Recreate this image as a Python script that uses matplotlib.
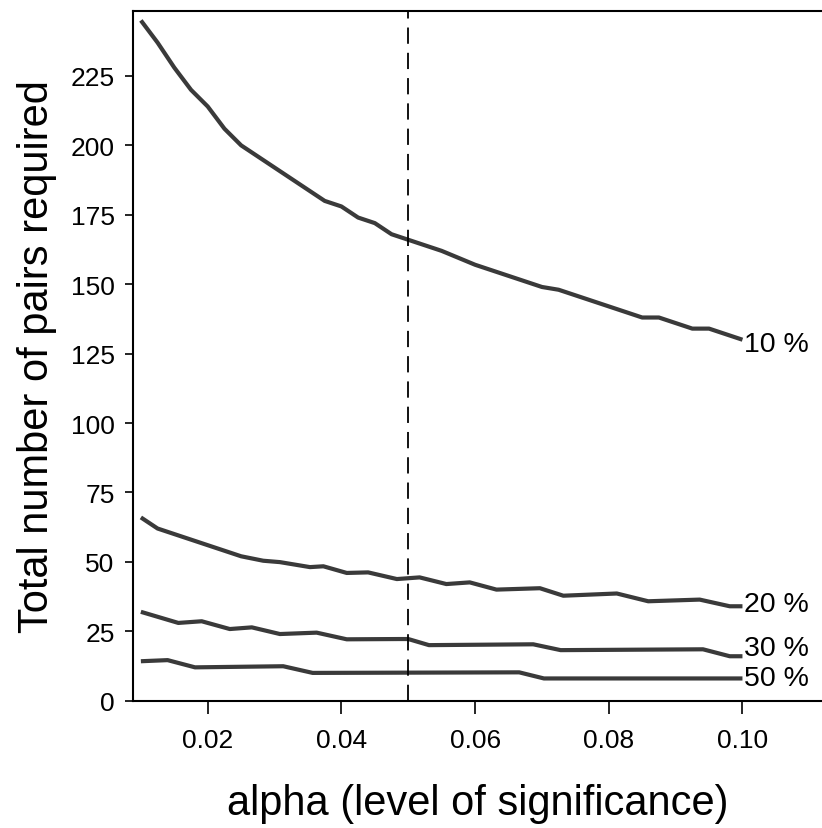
import matplotlib
matplotlib.use("Agg")
import matplotlib.pyplot as plt

plt.rcParams['font.family'] = ['Liberation Sans', 'DejaVu Sans']

# 10 % curve
alpha_10 = [0.010, 0.0125, 0.015, 0.0175, 0.020, 0.0225, 0.025, 0.0275, 0.030, 0.0325,
            0.035, 0.0375, 0.040, 0.0425, 0.045, 0.0475, 0.050, 0.055, 0.060, 0.065,
            0.070, 0.0725, 0.075, 0.080, 0.085, 0.0875, 0.090, 0.0925, 0.095, 0.100]
n_10 = [245, 237, 228, 220, 214, 206, 200, 196, 192, 188,
        184, 180, 178, 174, 172, 168, 166, 162, 157, 153,
        149, 148, 146, 142, 138, 138, 136, 134, 134, 130]

# 20 % curve
alpha_20 = [0.010, 0.0125, 0.015, 0.0175, 0.020, 0.0225, 0.025, 0.0283, 0.0308, 0.0353,
            0.0373, 0.0408, 0.044, 0.0483, 0.0517, 0.0557, 0.0592, 0.0632, 0.0697,
            0.0732, 0.0812, 0.0859, 0.0936, 0.0981, 0.100]
n_20 = [66, 62, 60, 58, 56, 54, 52, 50.4, 49.9, 48.1,
        48.4, 46, 46.2, 43.8, 44.4, 42, 42.6, 40, 40.5,
        37.8, 38.6, 35.8, 36.4, 34, 34]

# 30 % curve
alpha_30 = [0.010, 0.0156, 0.0191, 0.0233, 0.0266, 0.0308, 0.0363, 0.0408, 0.0488,
            0.050, 0.0531, 0.0687, 0.0728, 0.0941, 0.0981, 0.100]
n_30 = [32, 28, 28.6, 25.8, 26.4, 24, 24.5, 22.1, 22.2,
        22.2, 20, 20.3, 18.2, 18.5, 16, 16]

# 50 % curve
alpha_50 = [0.010, 0.014, 0.0181, 0.0313, 0.0357, 0.0666, 0.0703, 0.100]
n_50 = [14.2, 14.6, 12, 12.4, 10, 10.2, 8, 8]

series = [(alpha_10, n_10, "10 %"), (alpha_20, n_20, "20 %"),
          (alpha_30, n_30, "30 %"), (alpha_50, n_50, "50 %")]
label_y = {"10 %": 128.5, "20 %": 34.8, "30 %": 18.9, "50 %": 8.0}

x_ticks = [0.02, 0.04, 0.06, 0.08, 0.10]
x_ticklabels = ["0.02", "0.04", "0.06", "0.08", "0.10"]
y_ticks = [0, 25, 50, 75, 100, 125, 150, 175, 200, 225]

fig = plt.figure(figsize=(8.22, 8.29), dpi=100)
ax = fig.add_axes([0.1622, 0.1536, 0.8378, 0.8316])

for xs, ys, lab in series:
    ax.plot(xs, ys, color='#3a3a3a', lw=3.0, solid_capstyle='butt', solid_joinstyle='round')
    ax.text(0.1003, label_y[lab], lab, fontsize=20.5, va='center', ha='left')

ax.axvline(0.05, color='black', lw=1.3, dashes=(9, 5))

ax.set_xlim(0.00887, 0.1119)
ax.set_ylim(0, 248.3)
ax.set_xticks(x_ticks)
ax.set_xticklabels(x_ticklabels)
ax.set_yticks(y_ticks)
ax.tick_params(axis='both', labelsize=19, direction='out', width=1.2)
ax.tick_params(axis='x', length=9, pad=11)
ax.tick_params(axis='y', length=6, pad=7.5)
for s in ['left', 'top', 'bottom']:
    ax.spines[s].set_linewidth(1.5)
ax.spines['right'].set_visible(False)

ax.set_xlabel("alpha (level of significance)", fontsize=30, labelpad=22)
ax.set_ylabel("Total number of pairs required", fontsize=30, labelpad=10)

fig.savefig("out.png", dpi=100)
